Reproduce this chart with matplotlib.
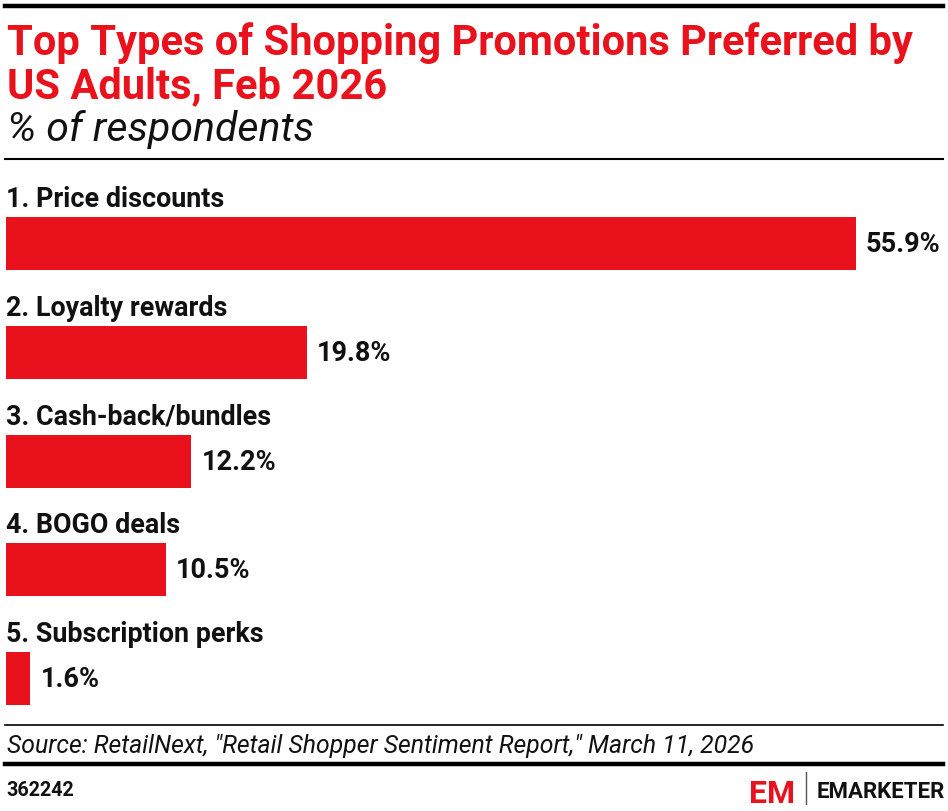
# Top types of shopping promotions preferred by US adults, Feb 2026
# horizontal bar chart, emarketer style

import numpy as np
from matplotlib import pyplot as plt
import matplotlib as mpl

# data
categories = ['1. Price discounts', '2. Loyalty rewards', '3. Cash-back/bundles',
              '4. BOGO deals', '5. Subscription perks']
values = [55.9, 19.8, 12.2, 10.5, 1.6]
value_labels = ['55.9%', '19.8%', '12.2%', '10.5%', '1.6%']

title_lines = ['Top Types of Shopping Promotions Preferred by', 'US Adults, Feb 2026']
subtitle = '% of respondents'
source = 'Source: RetailNext, "Retail Shopper Sentiment Report," March 11, 2026'
chart_id = '362242'

red = '#E8111C'
W, H = 948, 812

plt.rcParams['font.family'] = ['Roboto', 'DejaVu Sans']

fig = plt.figure(figsize=(W/100, H/100), dpi=100)
fig.patch.set_facecolor('white')

# axes covers the whole figure; scales chosen so the bars land in place
ppu = 15.2          # pixels per percent
row = 108.75        # pixels per category
y0 = 244.5          # centre of first bar, px from top
ax = fig.add_axes([0, 0, 1, 1])
ax.set_xlim(-6/ppu, (W-6)/ppu)
ax.set_ylim((H-y0)/row, -y0/row)
ax.axis('off')

idx = np.arange(len(categories))
ax.barh(idx, values, height=53/row, color=red, left=0)
for i, (c, v, lab) in enumerate(zip(categories, values, value_labels)):
    ax.text(0, i - 0.345, c, fontsize=19.4, fontweight='bold', va='baseline', ha='left', color='#111111')
    ax.text(v + 10/ppu, i, lab, fontsize=19.5, fontweight='bold', va='center', ha='left', color='#111111')

# helper for pixel coords from the top-left
def px(x, y):
    return x/W, 1 - y/H

# header
fig.add_artist(plt.Line2D([5/W, 943/W], [1-7/H, 1-7/H], color='black', linewidth=3.2))
fig.text(*px(7, 55), title_lines[0], fontsize=30, fontweight='bold', color=red, va='baseline', ha='left')
fig.text(*px(7, 98), title_lines[1], fontsize=30, fontweight='bold', color=red, va='baseline', ha='left')
fig.text(*px(7, 141), subtitle, fontsize=29.5, style='italic', color='#111111', va='baseline', ha='left')
fig.add_artist(plt.Line2D([5/W, 943/W], [1-160/H, 1-160/H], color='black', linewidth=1.5))

# footer
fig.add_artist(plt.Line2D([5/W, 943/W], [1-726/H, 1-726/H], color='black', linewidth=1.2))
fig.text(*px(7, 753), source, fontsize=17.8, style='italic', color='#111111', va='baseline', ha='left')
fig.add_artist(plt.Line2D([5/W, 943/W], [1-765/H, 1-765/H], color='black', linewidth=3.2))
fig.text(*px(6, 796), chart_id, fontsize=14.2, fontweight='bold', color='#111111', va='baseline', ha='left')

# logo
fig.text(*px(749, 803), 'EM', fontsize=23, fontweight='bold', color=red, va='baseline', ha='left')
fig.add_artist(plt.Line2D([806/W, 806/W], [1-773/H, 1-805/H], color='#555555', linewidth=1))
fig.text(*px(817, 798), 'EMARKETER', fontsize=16, fontweight='bold', color='#111111', va='baseline', ha='left')

plt.savefig('out.png', dpi=100, facecolor='white')
